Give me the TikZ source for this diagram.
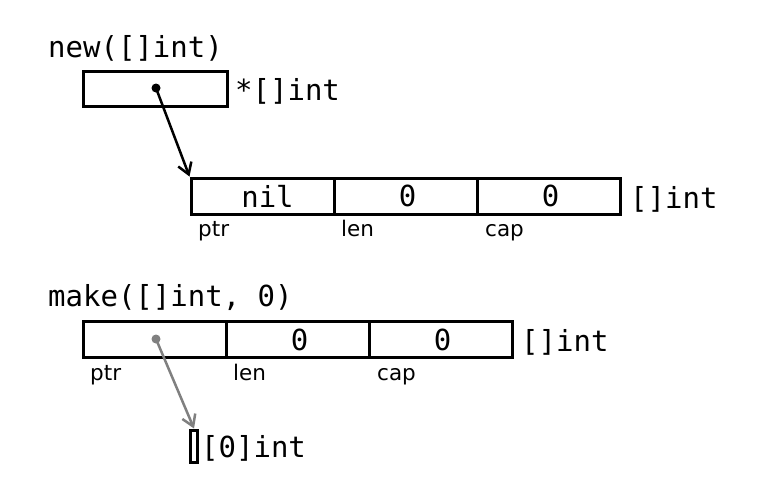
\documentclass[tikz,border=0pt]{standalone}
\usepackage{fontspec}
\newfontfamily\codefont{DejaVu Sans Mono}
\newfontfamily\labfont{DejaVu Sans}
\usetikzlibrary{arrows.meta}
\definecolor{ptrgrey}{RGB}{128,128,128}
\tikzset{
  code/.style={font=\codefont\fontsize{29}{32}\selectfont, inner sep=0pt},
  lab/.style={font=\labfont\fontsize{21.5}{24}\selectfont, inner sep=0pt, anchor=base west},
  cell/.style={draw, line width=3pt, minimum width=143pt, minimum height=36pt, inner sep=0pt,
    font=\codefont\fontsize{29}{32}\selectfont},
  ptrarrow/.style={line width=2.5pt, -{Straight Barb[length=11pt,width=14pt,line width=2.5pt]}},
}
\begin{document}
\begin{tikzpicture}[x=1pt,y=-1pt]
\useasboundingbox (0,0) rectangle (772,498);
% new([]int)
\node[code, anchor=base west] (t1) at (48,57) {new([]int)};
\node[cell, minimum width=144pt, minimum height=35pt] (p) at (155,88.5) {};
\node[code, anchor=base west] (pt) at (235,100) {*[]int};
\coordinate (d1) at (156,88);
\node[cell] (a1) at (262.5,196) {\hspace*{10pt}nil};
\node[cell] (a2) at (405.5,196) {\hspace*{4pt}0};
\node[cell] (a3) at (548.5,196) {\hspace*{4pt}0};
\node[code, anchor=base west] (at) at (630,208) {[]int};
\node[lab] (l1) at (198,236) {ptr};
\node[lab] (l2) at (341,236) {len};
\node[lab] (l3) at (485,236) {cap};
\fill (d1) circle (4.5pt);
\draw[ptrarrow] (d1) -- (a1.north west);
% make([]int, 0)
\node[code, anchor=base west] (t2) at (48,306) {make([]int, 0)};
\node[cell] (b1) at (154.5,339.5) {};
\node[cell] (b2) at (297.5,339.5) {\hspace*{4pt}0};
\node[cell] (b3) at (440.5,339.5) {\hspace*{4pt}0};
\node[code, anchor=base west] (bt) at (521,351) {[]int};
\node[lab] (m1) at (90,380) {ptr};
\node[lab] (m2) at (233,380) {len};
\node[lab] (m3) at (377,380) {cap};
\coordinate (d2) at (156,339);
\node[draw, line width=3pt, minimum width=7pt, minimum height=32pt, inner sep=0pt] (z) at (194,446) {};
\node[code, anchor=base west] (zt) at (201,457) {[0]int};
\fill[ptrgrey] (d2) circle (4.5pt);
\draw[ptrarrow, ptrgrey] (d2) -- (z.north);
\end{tikzpicture}
\end{document}
